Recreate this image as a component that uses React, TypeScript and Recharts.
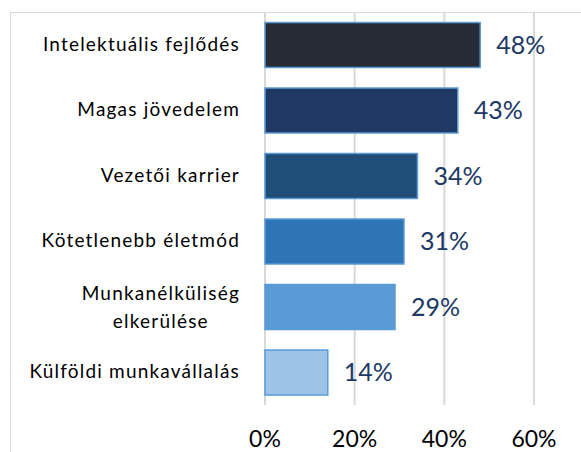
import React from "react";
import { BarChart, Bar, XAxis, YAxis, CartesianGrid, LabelList, Cell } from "recharts";

const categories = [
  "Intelektuális fejlődés",
  "Magas jövedelem",
  "Vezetői karrier",
  "Kötetlenebb életmód",
  "Munkanélküliség elkerülése",
  "Külföldi munkavállalás",
];
const values = [48, 43, 34, 31, 29, 14];
const barColors = ["#262B36", "#203864", "#1F4E79", "#2E75B6", "#5B9BD5", "#9DC3E6"];
const xTicks = [0, 20, 40, 60];

const data = categories.map((name, i) => ({ name, value: values[i] }));

const FONT = "Lato, 'Noto Sans', sans-serif";
const LS = 1.2;

let ctx: CanvasRenderingContext2D | null = null;
function measure(text: string, font: string) {
  if (!ctx) ctx = document.createElement("canvas").getContext("2d");
  if (!ctx) return text.length * 9;
  ctx.font = font;
  return ctx.measureText(text).width + text.length * LS;
}

// Excel breaks the long label in two and centres the lines
const wrapped: Record<string, string[]> = {
  "Munkanélküliség elkerülése": ["Munkanélküliség", "elkerülése"],
};

function CategoryTick(props: any) {
  const { x, y, payload } = props;
  const lines = wrapped[payload.value] ?? [payload.value];
  const font = `19px ${FONT}`;
  const style = { font, letterSpacing: LS };
  if (lines.length === 1) {
    return (
      <text x={x} y={y} dy={6} textAnchor="end" fill="#000" style={style}>
        {payload.value}
      </text>
    );
  }
  const w = Math.max(...lines.map((l) => measure(l, font)));
  const cx = x - w / 2;
  return (
    <text x={cx} y={y} textAnchor="middle" fill="#000" style={style}>
      {lines.map((l, i) => (
        <tspan key={i} x={cx} dy={i === 0 ? -7 : 28}>
          {l}
        </tspan>
      ))}
    </text>
  );
}

export default function App() {
  return (
    <div style={{ position: "absolute", left: 0, top: 0, width: 581, height: 452, overflow: "hidden", background: "#fff" }}>
      <div
        style={{
          position: "absolute",
          left: 10,
          top: 12,
          width: 620,
          height: 500,
          border: "1.5px solid #D9D9D9",
          boxSizing: "border-box",
        }}
      />
      <div style={{ position: "absolute", left: 0, top: 0 }}>
        <BarChart
          width={581}
          height={452}
          data={data}
          layout="vertical"
          margin={{ top: 12, right: 47, bottom: 0, left: 0 }}
          barCategoryGap="16%"
        >
          <CartesianGrid horizontal={false} stroke="#D9D9D9" strokeWidth={2} />
          <XAxis
            type="number"
            domain={[0, 60]}
            ticks={xTicks}
            tickFormatter={(v) => `${v}%`}
            axisLine={false}
            tickLine={false}
            height={47}
            tickMargin={20}
            tick={{ fill: "#000", fontSize: 23, fontFamily: FONT }}
          />
          <YAxis
            type="category"
            dataKey="name"
            width={265}
            axisLine={false}
            tickLine={false}
            tickMargin={19}
            tick={<CategoryTick />}
          />
          <Bar dataKey="value" stroke="#5B9BD5" strokeWidth={1.5} isAnimationActive={false}>
            {data.map((d, i) => (
              <Cell key={d.name} fill={barColors[i]} />
            ))}
            <LabelList
              dataKey="value"
              position="right"
              offset={16}
              formatter={(v: any) => `${v}%`}
              style={{ fill: "#203864", fontSize: 25, fontFamily: FONT }}
            />
          </Bar>
        </BarChart>
      </div>
    </div>
  );
}
